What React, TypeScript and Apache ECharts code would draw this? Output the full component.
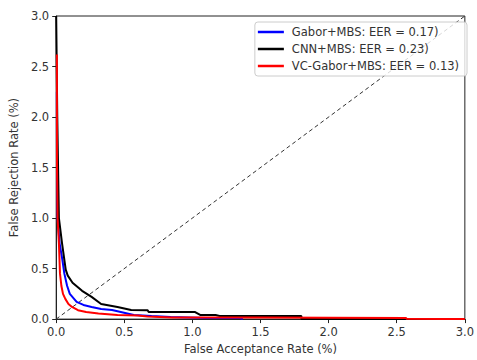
import React, { useEffect, useRef } from "react";
import * as echarts from "echarts";

const xTicks = [0, 0.5, 1.0, 1.5, 2.0, 2.5, 3.0];

const gaborX = [0.005, 0.006, 0.01, 0.025, 0.045, 0.06, 0.08, 0.1, 0.15, 0.2, 0.26, 0.33, 0.41, 0.57, 0.7, 0.84, 1.1, 1.35, 1.37];
const gaborY = [2.25, 1.6, 1.0, 0.75, 0.59, 0.45, 0.33, 0.25, 0.17, 0.14, 0.12, 0.1, 0.09, 0.04, 0.03, 0.02, 0.01, 0.01, 0.0];

const cnnX = [0.0, 0.008, 0.015, 0.02, 0.043, 0.07, 0.085, 0.12, 0.19, 0.26, 0.33, 0.45, 0.55, 0.67, 0.68, 1.02, 1.06, 1.17, 1.2, 1.8, 1.8, 3.0];
const cnnY = [3.0, 2.0, 1.4, 1.0, 0.75, 0.49, 0.43, 0.36, 0.28, 0.22, 0.15, 0.12, 0.09, 0.088, 0.07, 0.07, 0.04, 0.04, 0.03, 0.03, 0.0, 0.0];

const vcX = [0.005, 0.006, 0.01, 0.02, 0.028, 0.038, 0.05, 0.067, 0.09, 0.116, 0.16, 0.22, 0.31, 0.45, 0.6, 0.67, 0.85, 1.0, 1.5, 2.0, 2.57, 2.57, 3.0];
const vcY = [2.62, 1.5, 1.0, 0.75, 0.45, 0.33, 0.25, 0.2, 0.15, 0.12, 0.088, 0.07, 0.055, 0.04, 0.035, 0.025, 0.016, 0.016, 0.016, 0.014, 0.012, 0.003, 0.0];

const names = ["Gabor+MBS: EER = 0.17)", "CNN+MBS: EER = 0.23)", "VC-Gabor+MBS: EER = 0.13)"];
const colors = ["#0000ff", "#000000", "#ff0000"];

const zip = (xs: number[], ys: number[]) => xs.map((x, i) => [x, ys[i]]);

export default function App() {
  const ref = useRef<HTMLDivElement>(null);
  useEffect(() => {
    if (!ref.current) return;
    const chart = echarts.init(ref.current, null, { renderer: "svg" });
    const font = "DejaVu Sans";
    const textColor = "#333";
    const axisCommon = {
      type: "value" as const,
      min: xTicks[0],
      max: xTicks[xTicks.length - 1],
      interval: 0.5,
      axisLine: { show: true, onZero: false, lineStyle: { color: "#222", width: 1 } },
      axisTick: { show: true, inside: false, length: 4, lineStyle: { color: "#222" } },
      splitLine: { show: false },
      axisLabel: { color: textColor, fontFamily: font, fontSize: 11.5, formatter: (v: number) => v.toFixed(1) },
      nameLocation: "middle" as const,
      nameTextStyle: { color: textColor, fontFamily: font, fontSize: 11.5 },
    };
    chart.setOption({
      animation: false,
      backgroundColor: "#fff",
      grid: { left: 54, right: 8, top: 16, bottom: 36, show: true, borderColor: "#222", borderWidth: 1 },
      xAxis: { ...axisCommon, name: "False Acceptance Rate (%)", nameGap: 23, axisLabel: { ...axisCommon.axisLabel, margin: 7 } },
      yAxis: { ...axisCommon, name: "False Rejection Rate (%)", nameGap: 33, axisLabel: { ...axisCommon.axisLabel, margin: 7 } },
      legend: {
        orient: "vertical",
        right: 10,
        top: 22,
        data: names,
        icon: "rect",
        itemWidth: 26,
        itemHeight: 2.5,
        itemGap: 5,
        padding: [4, 8, 4, 3],
        borderColor: "#ccc",
        borderWidth: 1,
        borderRadius: 3,
        backgroundColor: "rgba(255,255,255,0.8)",
        textStyle: { color: textColor, fontFamily: font, fontSize: 11.5, padding: [0, 0, 0, 3] },
      },
      series: [
        {
          type: "line",
          data: [[0, 0], [3, 3]],
          showSymbol: false,
          lineStyle: { color: "#333", width: 1, type: [4, 3] },
          silent: true,
          z: 1,
        },
        ...[zip(gaborX, gaborY), zip(cnnX, cnnY), zip(vcX, vcY)].map((d, i) => ({
          type: "line",
          name: names[i],
          data: d,
          showSymbol: false,
          color: colors[i],
          lineStyle: { color: colors[i], width: 2 },
          z: 2 + i,
        })),
      ],
    });
    return () => chart.dispose();
  }, []);
  return <div ref={ref} style={{ position: "fixed", left: 0, top: 0, width: 477, height: 360 }} />;
}
